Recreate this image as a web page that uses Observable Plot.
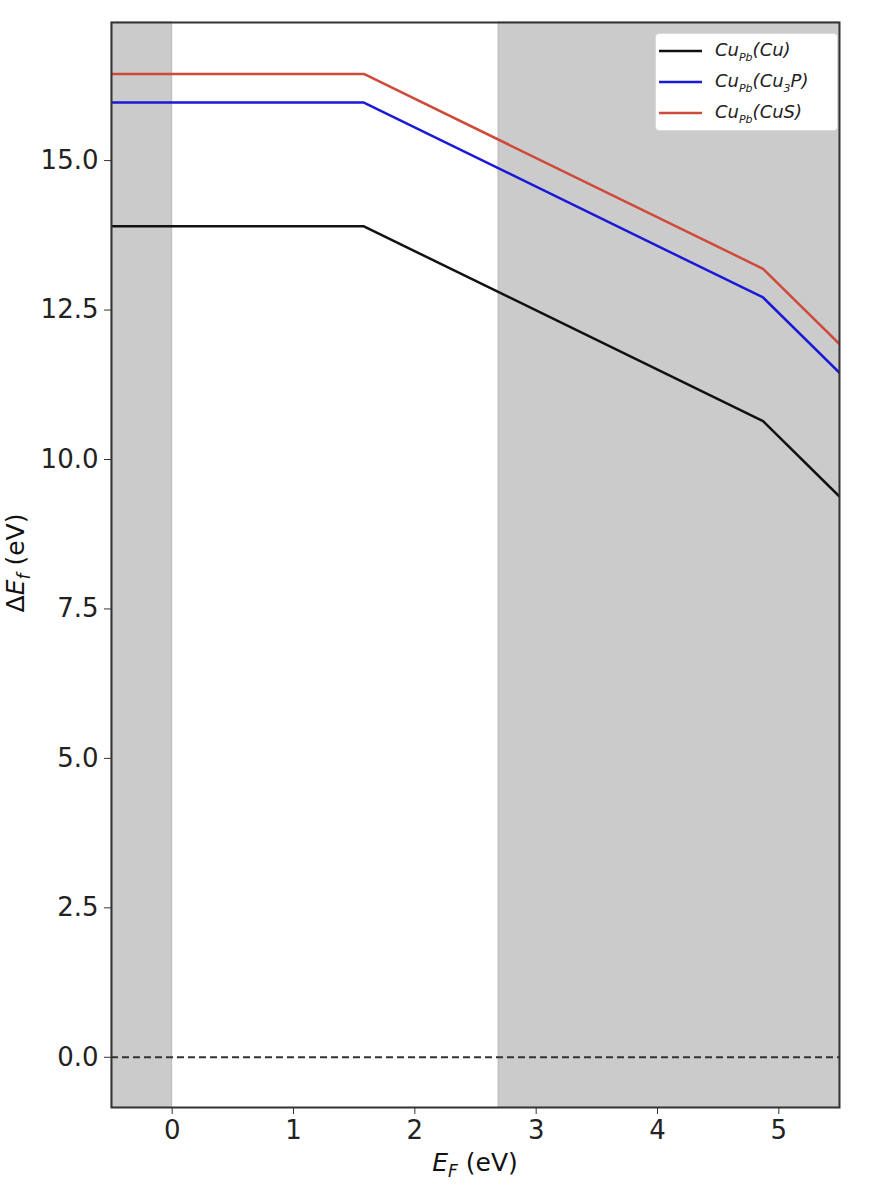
<!DOCTYPE html>
<html><head><meta charset="utf-8">
<script src="https://cdn.jsdelivr.net/npm/d3@7"></script>
<script src="https://cdn.jsdelivr.net/npm/@observablehq/plot@0.6"></script>
<style>
html,body{margin:0;padding:0;background:#fff;}
#wrap{position:relative;width:874px;height:1188px;font-family:"DejaVu Sans",sans-serif;}
.lbl{position:absolute;font-size:25px;color:#111;white-space:nowrap;}
#legend{position:absolute;left:655px;top:33px;width:181px;height:96px;background:#fff;border:1px solid #d8d8d8;border-radius:4px;font-size:18px;color:#222;}
#legend .row{position:absolute;left:3px;height:24px;display:flex;align-items:center;}
#legend i sub{font-size:11px;}
</style></head>
<body><div id="wrap"></div>
<script>
// Fermi level grid points (eV)
const efPoints = [-0.5, 1.58, 4.87, 5.5];
// Formation energies (eV) for each chemical-potential condition
const cuCu  = [13.90, 13.90, 10.64, 9.38];
const cuCu3P = [15.97, 15.97, 12.71, 11.45];
const cuCuS = [16.45, 16.45, 13.19, 11.93];
const seriesNames = ["Cu_Pb(Cu)", "Cu_Pb(Cu3P)", "Cu_Pb(CuS)"];
const seriesColors = ["#111111", "#1a1ad6", "#cf4a3b"];
// shaded regions outside the band gap
const shadeStart = [-0.5, 2.69];
const shadeEnd = [0, 5.5];
const xTicks = [0, 1, 2, 3, 4, 5];
const yTicks = [0, 2.5, 5, 7.5, 10, 12.5, 15];

const series = [cuCu, cuCu3P, cuCuS];
const rows = [];
series.forEach((vals, i) => vals.forEach((v, j) => rows.push({name: seriesNames[i], ef: efPoints[j], de: v})));
const shades = shadeStart.map((s, i) => ({x1: s, x2: shadeEnd[i]}));

const plot = Plot.plot({
  width: 874, height: 1188,
  marginLeft: 111, marginRight: 35, marginTop: 22, marginBottom: 81,
  style: {fontFamily: "DejaVu Sans, sans-serif", fontSize: "26px", color: "#222", background: "transparent"},
  x: {domain: [-0.5, 5.5], label: null},
  y: {domain: [-0.84, 17.31], label: null},
  color: {domain: seriesNames, range: seriesColors},
  marks: [
    Plot.rect(shades, {x1: "x1", x2: "x2", fill: "#cbcbcb", stroke: "#b8b8b8", strokeWidth: 1}),
    Plot.ruleY([0], {stroke: "#333", strokeWidth: 2, strokeDasharray: "7,4"}),
    Plot.line(rows, {x: "ef", y: "de", z: "name", stroke: "name", strokeWidth: 2.5, clip: true}),
    Plot.axisX({ticks: xTicks, tickFormat: d => String(d), tickSize: 7, tickPadding: 6, stroke: "#333", fontSize: 26}),
    Plot.axisY({ticks: yTicks, tickFormat: d => d.toFixed(1), tickSize: 7, tickPadding: 6, stroke: "#333", fontSize: 26}),
    Plot.frame({stroke: "#333", strokeWidth: 2})
  ]
});
const wrap = document.getElementById("wrap");
wrap.appendChild(plot);

// axis labels
const xl = document.createElement("div");
xl.className = "lbl";
xl.innerHTML = '<i>E</i><sub style="font-size:17px"><i>F</i></sub> (eV)';
xl.style.left = "475px"; xl.style.top = "1148px"; xl.style.transform = "translateX(-50%)";
wrap.appendChild(xl);
const yl = document.createElement("div");
yl.className = "lbl";
yl.innerHTML = 'Δ<i>E</i><sub style="font-size:17px"><i>f</i></sub> (eV)';
yl.style.left = "3px"; yl.style.top = "563px";
yl.style.transformOrigin = "0 0";
yl.style.transform = "rotate(-90deg) translate(-50%, -2px)";
wrap.appendChild(yl);

// legend
const lg = document.createElement("div");
lg.id = "legend";
const labelsHtml = [
  '<i>Cu<sub>Pb</sub>(Cu)</i>',
  '<i>Cu<sub>Pb</sub>(Cu<sub>3</sub>P)</i>',
  '<i>Cu<sub>Pb</sub>(CuS)</i>'
];
const rowTops = [5, 36, 67];
labelsHtml.forEach((h, i) => {
  const r = document.createElement("div");
  r.className = "row";
  r.style.top = rowTops[i] + "px";
  r.innerHTML = `<svg width="47" height="10"><line x1="0" x2="43" y1="5" y2="5" stroke="${seriesColors[i]}" stroke-width="2.5"/></svg><span style="margin-left:9px">${h}</span>`;
  lg.appendChild(r);
});
wrap.appendChild(lg);
</script></body></html>
